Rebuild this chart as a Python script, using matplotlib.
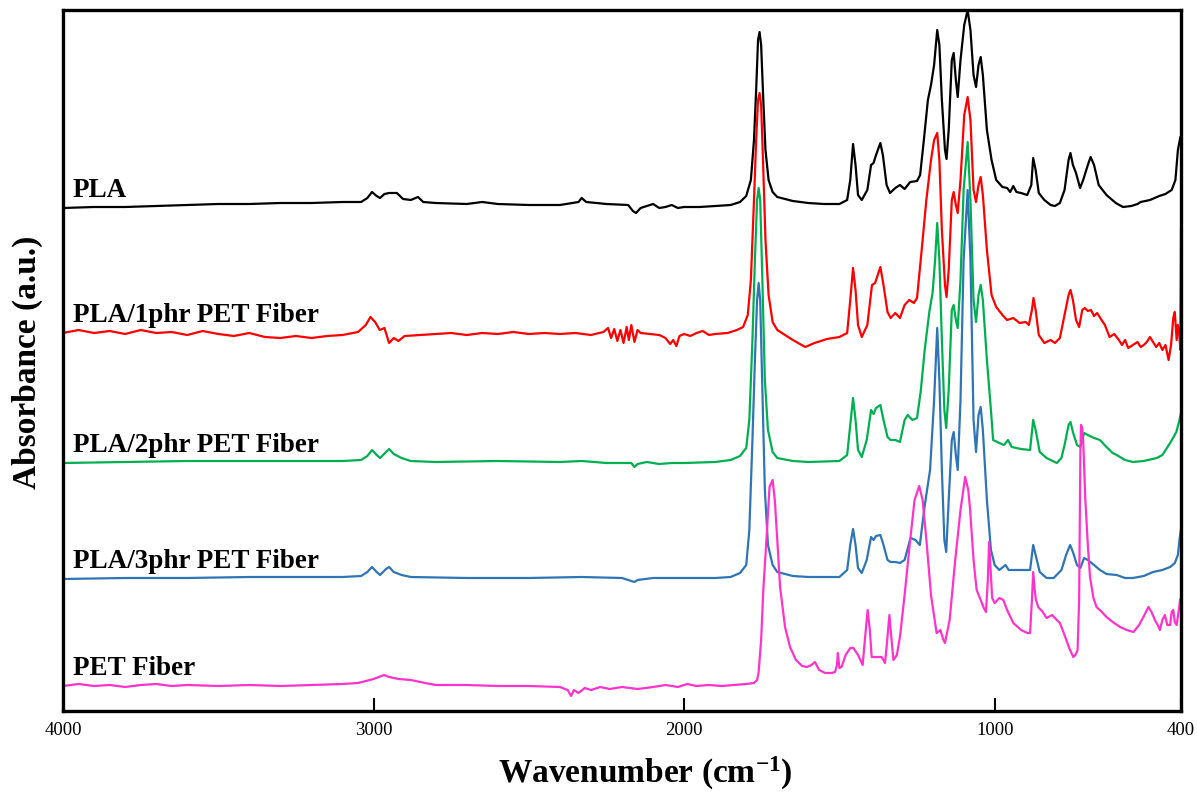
import matplotlib
matplotlib.use("Agg")
import matplotlib.pyplot as plt
import numpy as np

# FTIR spectra: (wavenumber cm-1, stacked absorbance a.u.)
pla = [(4000, 503), (3900, 504), (3800, 504), (3700, 505), (3600, 506), (3500, 507), (3400, 507),
       (3300, 508), (3200, 508), (3100, 509), (3040, 509), (3020, 513), (3005, 519), (2990, 515),
       (2979, 513), (2965, 517), (2950, 518), (2925, 518), (2905, 512), (2880, 511), (2857, 514),
       (2840, 509), (2800, 508), (2700, 507), (2650, 509), (2600, 507), (2500, 506), (2400, 506),
       (2340, 509), (2330, 513), (2315, 509), (2250, 507), (2180, 506), (2165, 500), (2155, 498),
       (2140, 503), (2120, 505), (2100, 507), (2080, 503), (2060, 504), (2040, 506), (2020, 503),
       (2000, 504), (1950, 504), (1900, 505), (1850, 506), (1820, 509), (1800, 515), (1785, 531),
       (1775, 571), (1768, 621), (1762, 671), (1757, 679), (1752, 666), (1745, 611), (1738, 561),
       (1728, 531), (1715, 519), (1700, 514), (1650, 510), (1600, 508), (1550, 507), (1500, 507),
       (1475, 511), (1465, 531), (1456, 567), (1448, 546), (1440, 516), (1428, 511), (1410, 521),
       (1398, 546), (1390, 548), (1382, 556), (1368, 568), (1360, 556), (1348, 526), (1337, 518),
       (1320, 523), (1305, 526), (1290, 522), (1272, 529), (1250, 530), (1240, 536), (1228, 571),
       (1215, 611), (1205, 626), (1195, 646), (1185, 681), (1178, 666), (1170, 611), (1160, 561),
       (1155, 552), (1148, 581), (1138, 651), (1132, 658), (1125, 631), (1119, 614), (1110, 651),
       (1098, 686), (1087, 701), (1078, 681), (1068, 636), (1060, 624), (1052, 646), (1045, 654),
       (1038, 636), (1025, 581), (1010, 551), (995, 531), (975, 524), (960, 523), (950, 519),
       (940, 525), (930, 519), (915, 518), (895, 516), (882, 526), (876, 553), (868, 541),
       (858, 518), (840, 511), (820, 506), (806, 505), (790, 508), (775, 521), (762, 551),
       (756, 558), (748, 546), (738, 538), (725, 523), (715, 531), (700, 546), (691, 554),
       (680, 546), (665, 526), (640, 516), (610, 508), (587, 504), (560, 505), (540, 507),
       (530, 509), (500, 511), (470, 515), (450, 517), (430, 521), (418, 531), (410, 561),
       (402, 574), (400, 574)]

pla_1phr = [(4000, 378), (3950, 381), (3900, 378), (3850, 380), (3800, 377), (3750, 381), (3700, 378),
            (3650, 379), (3600, 376), (3550, 380), (3500, 377), (3450, 375), (3400, 378), (3350, 374),
            (3300, 373), (3250, 375), (3200, 373), (3150, 375), (3100, 376), (3050, 379), (3025, 386),
            (3010, 394), (2995, 389), (2980, 381), (2965, 383), (2950, 368), (2935, 373), (2920, 370),
            (2900, 375), (2850, 376), (2800, 377), (2750, 378), (2700, 376), (2650, 378), (2600, 377),
            (2550, 379), (2500, 377), (2450, 378), (2400, 377), (2350, 378), (2300, 376), (2260, 379),
            (2245, 383), (2235, 373), (2225, 382), (2215, 370), (2205, 381), (2195, 368), (2185, 384),
            (2178, 371), (2170, 386), (2160, 369), (2150, 381), (2140, 378), (2110, 377), (2080, 376),
            (2060, 373), (2045, 367), (2035, 371), (2025, 365), (2015, 375), (2000, 377), (1980, 375),
            (1960, 378), (1940, 380), (1920, 376), (1900, 377), (1860, 378), (1830, 381), (1810, 384),
            (1795, 396), (1785, 431), (1775, 511), (1768, 571), (1762, 611), (1757, 618), (1752, 606),
            (1746, 551), (1738, 471), (1728, 416), (1715, 389), (1700, 381), (1650, 371), (1610, 364),
            (1580, 368), (1540, 372), (1500, 374), (1475, 378), (1465, 411), (1456, 443), (1448, 421),
            (1440, 386), (1428, 374), (1410, 386), (1395, 426), (1385, 428), (1368, 444), (1358, 426),
            (1345, 399), (1335, 393), (1320, 398), (1305, 393), (1290, 406), (1275, 411), (1260, 408),
            (1250, 413), (1235, 461), (1220, 511), (1205, 551), (1195, 571), (1185, 578), (1178, 551),
            (1170, 481), (1160, 426), (1155, 414), (1148, 441), (1138, 511), (1132, 519), (1125, 506),
            (1119, 498), (1110, 531), (1098, 596), (1087, 614), (1078, 591), (1068, 521), (1060, 509),
            (1052, 526), (1045, 534), (1038, 516), (1025, 461), (1010, 416), (995, 404), (975, 396),
            (960, 391), (940, 393), (920, 388), (900, 389), (890, 386), (880, 401), (875, 413),
            (868, 401), (858, 376), (840, 368), (820, 371), (806, 368), (790, 373), (775, 396),
            (762, 416), (756, 421), (748, 411), (738, 391), (728, 384), (718, 401), (710, 403),
            (700, 400), (690, 401), (680, 395), (670, 398), (660, 393), (645, 386), (630, 374),
            (615, 377), (600, 371), (590, 366), (580, 371), (570, 363), (555, 366), (540, 369),
            (530, 364), (520, 366), (510, 369), (500, 374), (490, 369), (480, 364), (470, 368),
            (460, 361), (450, 366), (440, 351), (432, 366), (425, 393), (420, 399), (414, 371),
            (410, 386), (405, 375), (402, 361), (400, 481)]

pla_2phr = [(4000, 248), (3800, 249), (3600, 250), (3400, 250), (3200, 250), (3100, 250), (3040, 251),
            (3020, 255), (3005, 261), (2990, 256), (2979, 253), (2960, 259), (2950, 262), (2935, 257),
            (2910, 253), (2880, 250), (2800, 249), (2600, 250), (2400, 249), (2330, 250), (2250, 248),
            (2170, 248), (2160, 244), (2150, 247), (2120, 249), (2080, 247), (2040, 248), (2000, 248),
            (1900, 249), (1850, 251), (1820, 255), (1800, 263), (1790, 291), (1780, 371), (1772, 451),
            (1765, 511), (1760, 523), (1755, 511), (1748, 431), (1740, 331), (1730, 281), (1715, 259),
            (1700, 253), (1650, 250), (1600, 249), (1500, 250), (1475, 256), (1465, 286), (1456, 313),
            (1448, 291), (1440, 261), (1428, 254), (1412, 271), (1398, 301), (1390, 297), (1382, 303),
            (1368, 306), (1358, 291), (1345, 274), (1335, 271), (1320, 271), (1305, 269), (1290, 291),
            (1280, 296), (1265, 291), (1250, 293), (1238, 320), (1225, 362), (1210, 400), (1200, 418),
            (1192, 450), (1185, 488), (1178, 451), (1170, 371), (1162, 301), (1156, 283), (1148, 321),
            (1138, 401), (1132, 406), (1125, 391), (1119, 383), (1110, 431), (1100, 521), (1087, 569),
            (1078, 511), (1068, 411), (1060, 389), (1052, 416), (1045, 426), (1038, 411), (1025, 351),
            (1012, 301), (1005, 271), (985, 268), (970, 266), (957, 271), (945, 264), (915, 262),
            (886, 261), (876, 291), (868, 281), (855, 259), (833, 253), (800, 248), (785, 253),
            (775, 266), (762, 286), (756, 289), (748, 279), (735, 266), (724, 264), (712, 278),
            (700, 276), (680, 273), (661, 271), (640, 264), (620, 258), (607, 256), (580, 251),
            (555, 249), (520, 250), (478, 253), (460, 256), (435, 268), (415, 279), (405, 291),
            (400, 298)]

pla_3phr = [(4000, 132), (3800, 133), (3600, 133), (3400, 134), (3200, 134), (3100, 134), (3040, 135),
            (3020, 139), (3005, 144), (2990, 139), (2979, 136), (2960, 142), (2950, 144), (2935, 139),
            (2910, 136), (2880, 134), (2700, 133), (2500, 133), (2330, 134), (2200, 133), (2160, 129),
            (2150, 131), (2100, 133), (2000, 133), (1900, 133), (1850, 134), (1820, 138), (1800, 146),
            (1790, 181), (1780, 271), (1772, 351), (1765, 411), (1760, 428), (1755, 411), (1748, 321),
            (1740, 221), (1730, 166), (1715, 146), (1700, 139), (1650, 135), (1600, 134), (1500, 134),
            (1475, 141), (1465, 166), (1456, 182), (1448, 166), (1440, 143), (1428, 138), (1412, 151),
            (1398, 174), (1390, 171), (1382, 175), (1368, 176), (1358, 166), (1345, 151), (1335, 149),
            (1320, 149), (1305, 148), (1290, 151), (1271, 173), (1255, 171), (1241, 166), (1225, 206),
            (1208, 241), (1195, 311), (1185, 383), (1178, 331), (1170, 241), (1162, 171), (1156, 159),
            (1148, 211), (1138, 271), (1132, 279), (1125, 256), (1119, 241), (1110, 311), (1100, 451),
            (1087, 521), (1078, 451), (1068, 291), (1060, 259), (1052, 296), (1045, 304), (1038, 281),
            (1025, 211), (1012, 161), (1000, 146), (985, 141), (965, 146), (955, 141), (930, 141),
            (900, 141), (886, 141), (876, 166), (868, 156), (855, 139), (833, 133), (810, 133),
            (785, 141), (770, 156), (757, 166), (748, 159), (735, 146), (724, 143), (712, 153),
            (700, 151), (680, 146), (661, 141), (640, 137), (607, 136), (580, 133), (555, 133),
            (520, 135), (490, 139), (460, 141), (435, 144), (420, 148), (410, 156), (405, 171),
            (400, 182)]

pet_fiber = [(4000, 25), (3950, 27), (3900, 25), (3850, 26), (3800, 24), (3750, 26), (3700, 27),
             (3650, 25), (3600, 26), (3500, 25), (3400, 26), (3300, 25), (3200, 26), (3100, 27),
             (3050, 28), (3000, 32), (2966, 36), (2950, 34), (2920, 32), (2880, 31), (2850, 29),
             (2800, 26), (2700, 26), (2600, 25), (2500, 25), (2400, 24), (2375, 21), (2364, 15),
             (2355, 21), (2340, 18), (2320, 23), (2300, 21), (2270, 24), (2240, 22), (2200, 24),
             (2150, 22), (2100, 24), (2060, 26), (2020, 24), (1990, 27), (1960, 25), (1920, 26),
             (1880, 25), (1840, 26), (1800, 27), (1775, 28), (1765, 31), (1760, 39), (1752, 71),
             (1745, 121), (1735, 171), (1725, 224), (1715, 231), (1708, 211), (1700, 171), (1691, 124),
             (1675, 84), (1659, 64), (1640, 51), (1620, 45), (1605, 44), (1590, 46), (1579, 49),
             (1565, 41), (1546, 38), (1525, 38), (1514, 39), (1508, 46), (1505, 58), (1500, 43),
             (1493, 44), (1480, 56), (1465, 63), (1455, 63), (1440, 56), (1425, 46), (1418, 71),
             (1409, 101), (1402, 81), (1396, 54), (1380, 54), (1364, 54), (1353, 48), (1346, 71),
             (1339, 96), (1332, 71), (1326, 51), (1315, 56), (1305, 74), (1290, 116), (1273, 168),
             (1258, 211), (1243, 225), (1232, 211), (1219, 168), (1205, 116), (1187, 78), (1175, 81),
             (1165, 71), (1160, 68), (1145, 91), (1127, 151), (1110, 201), (1095, 234), (1085, 221),
             (1079, 201), (1068, 151), (1058, 121), (1045, 111), (1035, 103), (1028, 99), (1022, 131),
             (1018, 169), (1013, 141), (1008, 113), (1000, 108), (985, 113), (972, 111), (960, 101),
             (940, 88), (915, 81), (895, 78), (886, 78), (880, 111), (876, 139), (871, 121),
             (867, 111), (860, 104), (845, 99), (833, 93), (815, 96), (800, 91), (790, 88),
             (775, 76), (760, 63), (747, 54), (740, 56), (733, 61), (728, 111), (724, 261),
             (722, 286), (718, 283), (715, 271), (708, 211), (700, 166), (693, 134), (682, 113),
             (672, 104), (655, 99), (640, 94), (620, 89), (596, 84), (575, 81), (553, 79),
             (535, 86), (521, 94), (505, 104), (495, 99), (484, 91), (475, 86), (468, 81),
             (460, 91), (452, 96), (444, 86), (435, 86), (430, 99), (425, 101), (420, 89),
             (414, 86), (408, 99), (403, 111), (400, 113)]

names = ["PLA", "PLA/1phr PET Fiber", "PLA/2phr PET Fiber", "PLA/3phr PET Fiber", "PET Fiber"]
spectra = [pla, pla_1phr, pla_2phr, pla_3phr, pet_fiber]
colors = ["#000000", "#ff0000", "#00b050", "#2e75b6", "#ff33cc"]

xtick_vals = [4000, 3000, 2000, 1000, 400]

plt.rcParams['font.family'] = ['Liberation Serif', 'DejaVu Serif']
plt.rcParams['mathtext.fontset'] = 'custom'
plt.rcParams['mathtext.rm'] = 'Liberation Serif:bold'
plt.rcParams['mathtext.it'] = 'Liberation Serif:bold:italic'
plt.rcParams['mathtext.bf'] = 'Liberation Serif:bold'
plt.rcParams['mathtext.default'] = 'rm'

fig = plt.figure(figsize=(11.97, 7.96), dpi=100)
ax = fig.add_axes([63 / 1197, 85 / 796, 1118 / 1197, 701 / 796])

for name, spec, col in zip(names, spectra, colors):
    wn, ab = np.array(spec, dtype=float).T
    ax.plot(wn, ab, color=col, linewidth=1.6)
    ax.text(3968, ab[0] + 11, name, fontsize=19.5, fontweight='bold',
            ha='left', va='baseline')

ax.set_xlim(4000, 400)
ax.set_ylim(0, 701)
ax.set_xticks(xtick_vals)
ax.set_xticklabels([str(v) for v in xtick_vals], fontsize=13.5)
ax.set_yticks([])
ax.tick_params(axis='x', direction='in', length=9.5, width=1.5, pad=8, top=False)
for sp in ax.spines.values():
    sp.set_linewidth(2.4)

ax.set_xlabel("Wavenumber (cm$^{-1}$)", fontsize=24, fontweight='bold')
ax.xaxis.set_label_coords(0.5206, -0.062)
ax.set_ylabel("Absorbance (a.u.)", fontsize=24, fontweight='bold')
ax.yaxis.set_label_coords(-0.018, 0.498)

fig.savefig("out.png", dpi=100)
